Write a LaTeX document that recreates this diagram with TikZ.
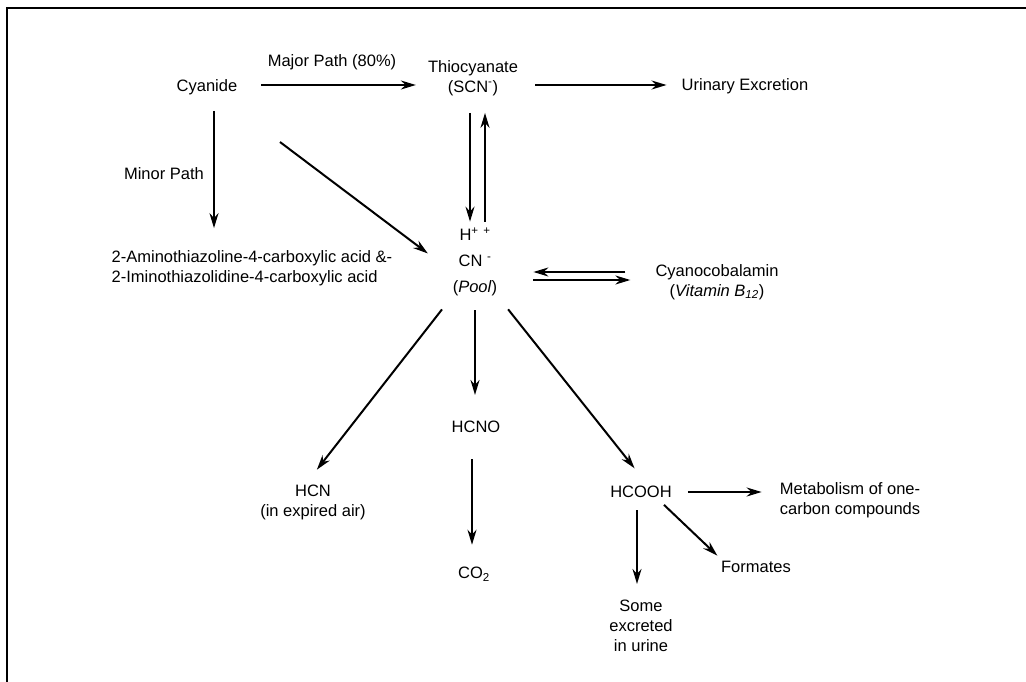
\documentclass[tikz,border=0pt]{standalone}
\usepackage{fontspec}
\setmainfont{Liberation Sans}
\usetikzlibrary{arrows.meta, positioning}

\tikzset{
  lbl/.style={font=\fontsize{16.5}{20}\selectfont, align=center, inner sep=2pt},
  arr/.style={-{Stealth[length=15pt, width=9pt]}, line width=2pt},
}

\begin{document}
\begin{tikzpicture}[x=1pt, y=-1pt]
    \useasboundingbox (0,0) rectangle (1026,682);
    % frame
    \draw[line width=2pt] (1026,8) -- (6.5,8) -- (6.5,682);

    % top row
    \node[lbl] (cyanide) at (207,87) {Cyanide};
    \node[lbl] (thiocyanate) at (473,78) {Thiocyanate\\(SCN\textsuperscript{-})};
    \node[lbl] (urinary) at (745,86) {Urinary Excretion};
    \node[lbl] (major) at (332,62) {Major Path (80\%)};
    \node[lbl, anchor=east] (minor) at (206,174) {Minor Path};
    \node[lbl, align=left] (thiazol) at (252,268)
      {2-Aminothiazoline-4-carboxylic acid \&-\\2-Iminothiazolidine-4-carboxylic acid};

    % pool and products
    \node[lbl, font=\fontsize{16.5}{26}\selectfont] (pool) at (475,262) {H\textsuperscript{+} \textsuperscript{+}\\CN \textsuperscript{-}\\(\textit{Pool})};
    \node[lbl] (cobalamin) at (717,282) {Cyanocobalamin\\(\textit{Vitamin B\textsubscript{12}})};
    \node[lbl] (hcn) at (313,502) {HCN\\(in expired air)};
    \node[lbl] (hcno) at (476,427) {HCNO};
    \node[lbl] (co2) at (474,574) {CO\textsubscript{2}};
    \node[lbl] (hcooh) at (641,492) {HCOOH};
    \node[lbl, align=left] (metab) at (850,500) {Metabolism of one-\\carbon compounds};
    \node[lbl] (formates) at (756,567) {Formates};
    \node[lbl] (urine) at (641,626) {Some\\excreted\\in urine};

    % connectors
    \draw[arr, shorten <=22pt, shorten >=10pt] (cyanide.east |- 0,85) -- (thiocyanate.west |- 0,85);
    \draw[arr, shorten <=15pt, shorten >=13pt] (thiocyanate.east |- 0,85) -- (urinary.west |- 0,85);
    \draw[arr, shorten <=14pt, shorten >=20pt] ([xshift=7pt]cyanide.south) -- ([xshift=7pt]cyanide.south |- thiazol.north);
    \draw[arr, shorten <=75pt, shorten >=59pt] (cyanide) -- ([yshift=-27pt]pool.center);
    \draw[arr, shorten <=15pt, shorten >=4pt] ([xshift=-3pt]thiocyanate.south) -- ([xshift=-3pt]thiocyanate.south |- pool.north);
    \draw[arr, shorten <=4pt, shorten >=15pt] ([xshift=12pt]thiocyanate.south |- pool.north) -- ([xshift=12pt]thiocyanate.south);
    \draw[arr, shorten <=28pt, shorten >=34pt] ([yshift=-10pt]pool.east -| cobalamin.west) -- ([yshift=-10pt]pool.east);
    \draw[arr, shorten <=34pt, shorten >=23pt] ([yshift=-18pt]pool.east) -- ([yshift=-18pt]pool.east -| cobalamin.west);
    \draw[arr, shorten <=14pt, shorten >=16pt] (pool.south west) -- ([xshift=-6pt]hcn.north);
    \draw[arr, shorten <=12pt, shorten >=24pt] (pool.south) -- (pool.south |- hcno.north);
    \draw[arr, shorten <=24pt, shorten >=20pt] ([xshift=-4pt]hcno.south) -- ([xshift=-4pt]hcno.south |- co2.north);
    \draw[arr, shorten <=14pt, shorten >=20pt] (pool.south east) -- ([xshift=6pt]hcooh.north);
    \draw[arr, shorten <=14pt, shorten >=16pt] (hcooh.east) -- (hcooh.east -| metab.west);
    \draw[arr, shorten <=7pt, shorten >=5pt] ([xshift=-15pt]hcooh.south east) -- ([xshift=2pt]formates.north west);
    \draw[arr, shorten <=10pt, shorten >=14pt] ([xshift=-4pt]hcooh.south) -- ([xshift=-4pt]hcooh.south |- urine.north);
\end{tikzpicture}
\end{document}
